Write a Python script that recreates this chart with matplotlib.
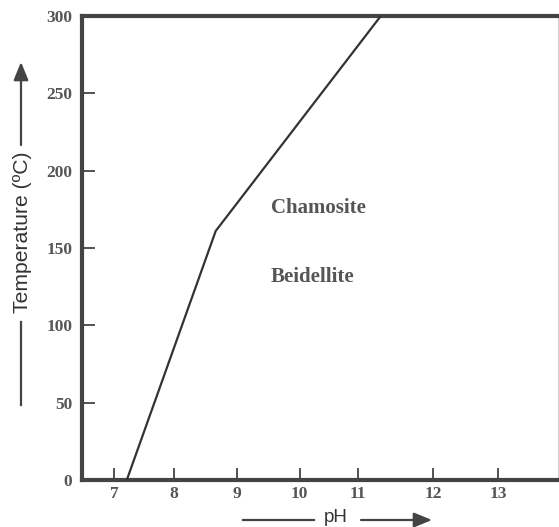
import matplotlib.pyplot as plt

# boundary line (pH, temperature)
ph = [7.20, 8.59, 11.17]
temp = [0, 161, 300]

# tick positions as drawn in the original (spacing is uneven)
xtick_pos = [7.0, 7.94, 8.92, 9.90, 10.81, 11.99, 13.0]
xtick_lab = ['7', '8', '9', '10', '11', '12', '13']
ytick_pos = [0, 50, 100, 150, 200, 250, 300]

W, H = 559, 527
fig = plt.figure(figsize=(W / 100, H / 100), dpi=100)
ax = fig.add_axes([82 / W, 1 - 480 / H, 476 / W, 464 / H])

dark = '#444444'
ax.plot(ph, temp, color='#333333', lw=1.6, solid_capstyle='butt', zorder=3)
ax.set_xlim(6.5, 13.94)
ax.set_ylim(0, 300)

for s in ['left', 'bottom', 'top']:
    ax.spines[s].set_linewidth(3)
    ax.spines[s].set_color(dark)
ax.spines['right'].set_linewidth(0.8)
ax.spines['right'].set_color('#d0d0d0')

ax.set_xticks(xtick_pos)
ax.set_xticklabels(xtick_lab)
ax.set_yticks(ytick_pos)
ax.tick_params(direction='in', length=9, width=1.3, color=dark)
ax.tick_params(axis='y', pad=7)
ax.tick_params(axis='x', pad=4)
for lab in ax.get_xticklabels() + ax.get_yticklabels():
    lab.set_fontfamily('Liberation Serif')
    lab.set_fontweight('bold')
    lab.set_fontsize(12.5)
    lab.set_color('#555555')
# corner ticks hidden
for t in ax.yaxis.get_major_ticks():
    if t.get_loc() in (0, 300):
        t.tick1line.set_visible(False)

ax.text(9.45, 176, 'Chamosite', family='Liberation Serif', weight='bold',
        fontsize=15, color='#555555', va='center', ha='left')
ax.text(9.45, 131, 'Beidellite', family='Liberation Serif', weight='bold',
        fontsize=15, color='#555555', va='center', ha='left')

# axis titles with arrows, in figure pixels
def fx(px):
    return px / W

def fy(py):
    return 1 - py / H

fig.text(fx(23), fy(232), 'Temperature (ºC)', rotation=90, family='Liberation Sans',
         fontsize=15.2, color='#333333', ha='center', va='center')
fig.add_artist(plt.Line2D([fx(21), fx(21)], [fy(322), fy(405)], color='#444444',
                          lw=1.6, transform=fig.transFigure))
ax.annotate('', xy=(fx(21), fy(62)), xytext=(fx(21), fy(145)),
            xycoords='figure fraction', textcoords='figure fraction',
            arrowprops=dict(arrowstyle='-|>,head_length=1.1,head_width=0.45',
                            color='#444444', lw=1.6, shrinkA=0, shrinkB=0))

fig.text(fx(336), fy(517), 'pH', family='Liberation Sans', fontsize=13.5,
         color='#333333', ha='center', va='center')
fig.add_artist(plt.Line2D([fx(243), fx(314)], [fy(520), fy(520)], color='#444444',
                          lw=1.6, transform=fig.transFigure))
ax.annotate('', xy=(fx(432), fy(520)), xytext=(fx(361), fy(520)),
            xycoords='figure fraction', textcoords='figure fraction',
            arrowprops=dict(arrowstyle='-|>,head_length=1.1,head_width=0.45',
                            color='#444444', lw=1.6, shrinkA=0, shrinkB=0))

fig.savefig('out.png', dpi=100)
